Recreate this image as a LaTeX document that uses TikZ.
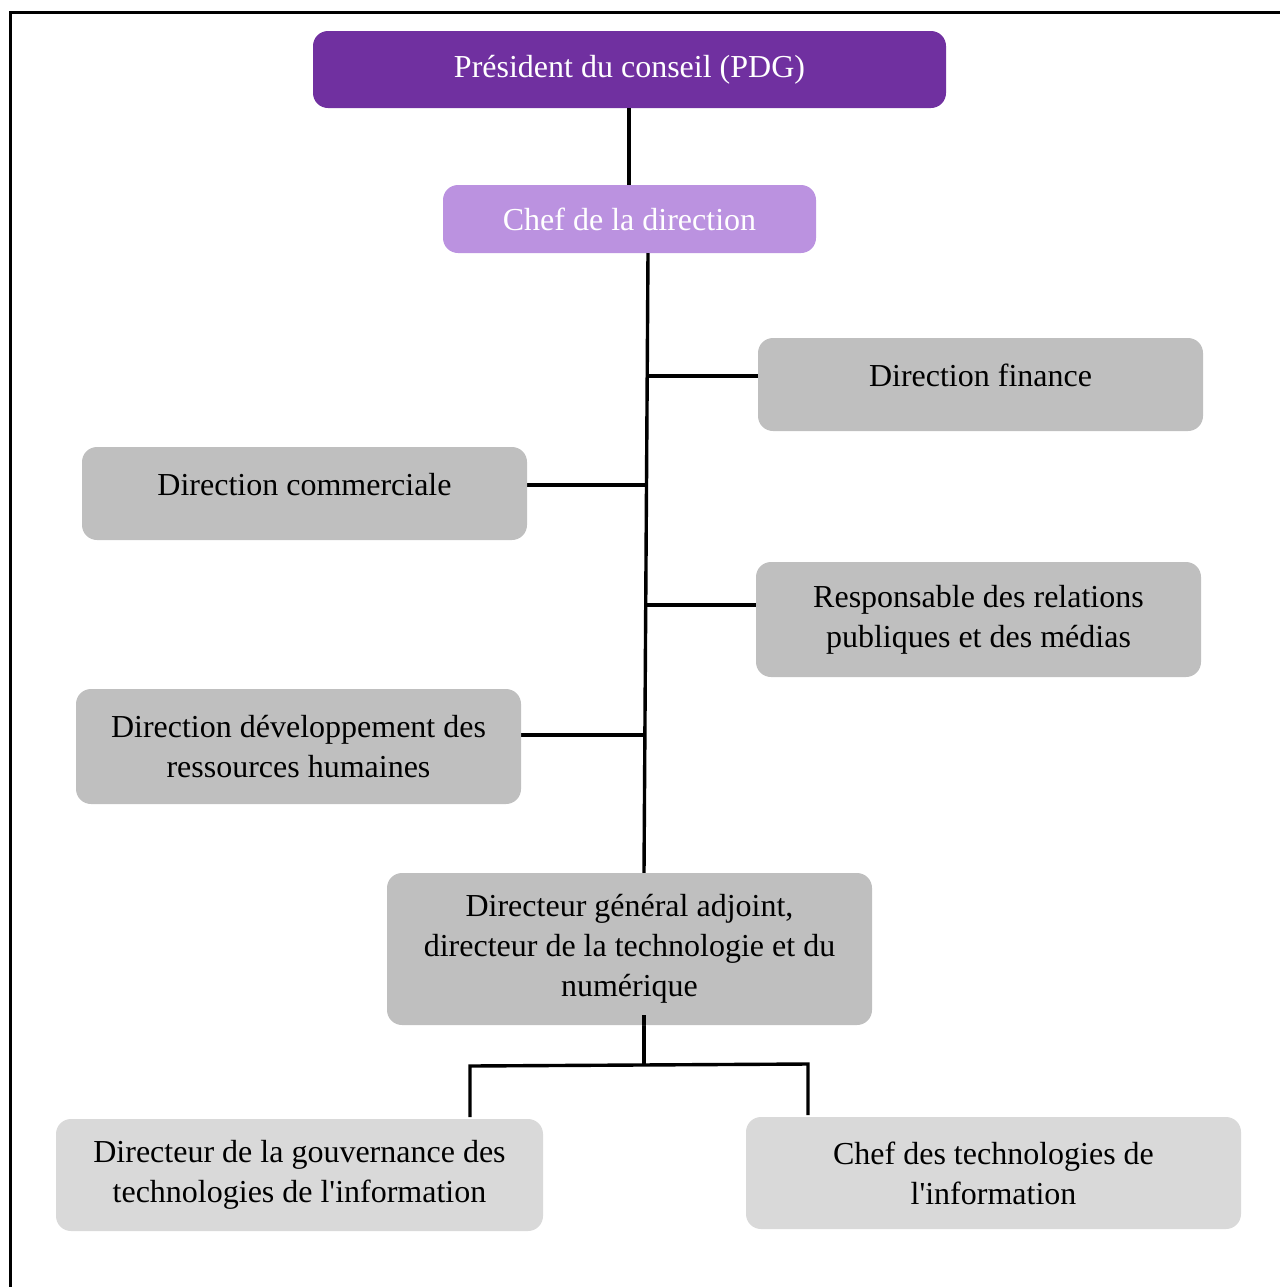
\documentclass[tikz,border=0pt]{standalone}
\usepackage{fontspec}
\setmainfont{Liberation Serif}
\usepackage{tikz}

\definecolor{pdgviolet}{HTML}{7030A0}
\definecolor{chefviolet}{RGB}{187,146,224}
\definecolor{dirgris}{HTML}{BFBFBF}
\definecolor{sousgris}{HTML}{D9D9D9}

\begin{document}
\begin{tikzpicture}[x=0.5pt,y=-0.5pt,
	boite/.style={rounded corners=7.5pt,inner sep=0pt,align=center,font=\fontsize{16}{20}\selectfont},
	dirbox/.style={boite,fill=dirgris,minimum width=222.5pt},
	sousbox/.style={boite,fill=sousgris,minimum height=56pt},
	lien/.style={line width=1.7pt}]
	\useasboundingbox (0,0) rectangle (1280,1287);
	\draw[line width=1.5pt] (10,1300)--(10,12)--(1290,12); %cadre

	% liens (sous les boites)
	\coordinate (haut) at (648,253);
	\coordinate (bas) at (644,873);
	\coordinate (jfin) at (647.5,376);
	\coordinate (jcom) at (646.5,485);
	\coordinate (jrel) at (646,605);
	\coordinate (jrh) at (645,735);
	\coordinate (jdga) at (644,1065);
	\coordinate (jg) at (470,1066);
	\coordinate (jd) at (808,1064);

	\node[boite,fill=pdgviolet,text=white,minimum width=316.5pt,minimum height=38.5pt] (pdg) at (629.5,69.5) {Président du conseil (PDG)};
	\node[boite,fill=chefviolet,text=white,minimum width=186.5pt,minimum height=34pt] (chef) at (629.5,219) {Chef de la direction};

	\draw[lien] (pdg.south -| 629,0)--(chef.north -| 629,0);
	\draw[lien] (haut)--(bas);
	\draw[lien] (jfin)--(jfin -| 760,0);
	\draw[lien] (jcom)--(jcom -| 525,0);
	\draw[lien] (jrel)--(jrel -| 758,0);
	\draw[lien] (jrh)--(jrh -| 519,0);
	\draw[lien] (644,1015)--(jdga);
	\draw[lien] (470,1117)--(jg)--(jd)--(808,1115);

	\node[dirbox,minimum height=46.5pt,text depth=9.5pt] (finance) at (980.5,384.5) {Direction finance};
	\node[dirbox,minimum height=46.5pt,text depth=9.5pt] (commerciale) at (304.5,493.5) {Direction commerciale};
	\node[dirbox,minimum height=57.5pt] (relations) at (978.5,619.5) {Responsable des relations\\publiques et des médias};
	\node[dirbox,minimum height=57.5pt] (rh) at (298.5,746.5) {Direction développement des\\ressources humaines};
	\node[boite,fill=dirgris,minimum width=242.5pt,minimum height=76pt] (dga) at (629.5,949) {Directeur général adjoint,\\directeur de la technologie et du\\numérique};
	\draw[lien] (jdga |- 0,1015)--(jdga |- dga.south);

	\node[sousbox,minimum width=243.5pt] (gouv) at (299.5,1175) {Directeur de la gouvernance des\\technologies de l\textquotesingle information};
	\node[sousbox,minimum width=247.5pt] (techno) at (993.5,1173) {Chef des technologies de\\l\textquotesingle information};
\end{tikzpicture}
\end{document}
